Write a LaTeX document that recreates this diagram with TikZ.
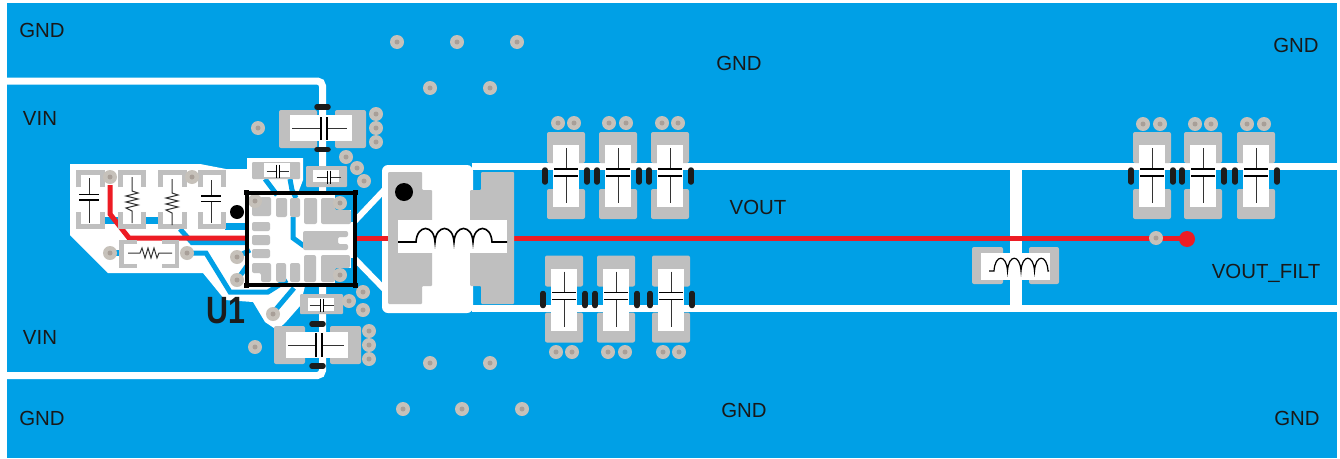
\documentclass[tikz,border=0pt]{standalone}
\usepackage{fontspec}
\usepackage{xcolor}
\setmainfont{Liberation Sans}
\definecolor{pcbblue}{HTML}{00A0E6}
\definecolor{padgray}{HTML}{BFBFBF}
\definecolor{viagray}{HTML}{C6C1BA}
\definecolor{viadark}{HTML}{A89F98}
\definecolor{netred}{HTML}{ED1C24}
\definecolor{silk}{HTML}{1C1C1C}
\tikzstyle{netlabel} = [text=black!90, font=\fontsize{20.4}{21}\selectfont, inner sep=0pt, text height=14pt, text depth=0pt]
\tikzstyle{via} = [circle, fill=viagray, minimum size=14pt, inner sep=0pt,
    path picture={\fill[viadark] (path picture bounding box.center) circle (2.5);}]
\tikzstyle{pad} = [fill=padgray, rounded corners=2pt]
\tikzstyle{body} = [fill=white]
\tikzstyle{bracket} = [draw=padgray, line width=5pt]
\tikzstyle{clearance} = [draw=white, line width=7pt, rounded corners=5pt]
\tikzstyle{trace} = [draw=pcbblue, line width=5pt]
\tikzstyle{net} = [draw=netred, line width=5pt]
\tikzstyle{plate} = [draw=black, line width=1.7pt]
\tikzstyle{lead} = [draw=black!80, line width=0.8pt]
\tikzstyle{bar} = [draw=silk, line width=5.5pt, line cap=round]
% output capacitor, pads above and below
\newcommand{\outcap}[2]{
	\fill [pad] (#1-19,#2-44) rectangle (#1+19,#2-13);
	\fill [pad] (#1-19,#2+13) rectangle (#1+19,#2+43);
	\fill [body] (#1-13,#2-31) rectangle (#1+13,#2+31);
	\path [lead] (#1,#2-28) -- (#1,#2-7);
	\path [lead] (#1,#2) -- (#1,#2+27);
	\path [plate] (#1-12,#2-7) -- (#1+12,#2-7);
	\path [plate] (#1-12,#2) -- (#1+12,#2);
	\path [bar] (#1-21,#2-6) -- (#1-21,#2+6);
	\path [bar] (#1+21,#2-6) -- (#1+21,#2+6);
}
% small capacitor lying flat: x, y, half width of leads
\newcommand{\flatcap}[3]{
	\path [lead] (#1-#3,#2) -- (#1-1.5,#2);
	\path [lead] (#1+1.5,#2) -- (#1+#3,#2);
	\path [draw=black, line width=1pt] (#1-1.5,#2-6.5) -- (#1-1.5,#2+6.5);
	\path [draw=black, line width=1pt] (#1+1.5,#2-6.5) -- (#1+1.5,#2+6.5);
}
% pair of grey brackets round an upright part
\newcommand{\partbrackets}[1]{
	\path [bracket] (#1+2.5,187) -- (#1+2.5,172.5) -- (#1+26,172.5) -- (#1+26,187);
	\path [bracket] (#1+2.5,212) -- (#1+2.5,226.5) -- (#1+26,226.5) -- (#1+26,212);
}
% upright resistor: x, top of zigzag
\newcommand{\uprightres}[2]{
	\path [lead, line width=1pt] (#1,#2-14) -- (#1,#2) -- (#1+6,#2+2) -- (#1-6,#2+5) -- (#1+6,#2+8) -- (#1-6,#2+11) -- (#1+6,#2+14) -- (#1-6,#2+17) -- (#1,#2+20) -- (#1,#2+32);
}
\begin{document}
\begin{tikzpicture}[x=1pt, y=-1pt]
			\useasboundingbox (0,0) rectangle (1340,458);
			% copper pour
			\fill [pcbblue] (7,3) rectangle (1337,458);

			% clearance lines
			\path [clearance] (7,81) -- (322.5,81) -- (322.5,375.5) -- (7,375.5);
			\path [clearance, rounded corners=0pt] (472,166.5) -- (1340,166.5);
			\path [clearance, rounded corners=0pt] (472,308.5) -- (1340,308.5);
			\fill [white] (1010,166) rectangle (1022,308);
			\fill [white, rounded corners=6pt] (382,165) rectangle (473,313);
			\path [clearance, line width=6pt, rounded corners=0pt] (353,223) -- (387,187);
			\path [clearance, line width=6pt, rounded corners=0pt] (353,257) -- (387,292);

			% white area of the input side
			\fill [white] (70,164) -- (200,164) -- (226,169) -- (247,169) -- (247,158) -- (303,158) -- (303,180) -- (298,193)
				-- (355,193) -- (355,286) -- (305,286) -- (300,306) -- (285,323) -- (277,330) -- (265,322) -- (253,302)
				-- (225,300) -- (203,273) -- (108,273) -- (70,235) -- cycle;

			% blue traces
			\fill [pcbblue] (335,193) rectangle (355,210);
			\fill [pcbblue] (351,193) rectangle (355,222);
			\fill [pcbblue] (351,258) rectangle (355,286);
			\fill [pcbblue] (335,268) rectangle (355,286);
			\path [trace, line width=7pt] (103,220.5) -- (118,220.5);
			\path [trace, line width=7pt] (145,220.5) -- (158,220.5);
			\path [trace, line width=7pt] (225,226) -- (247,226);
			\path [trace] (180,229) -- (192,242.5) -- (247,242.5);
			\path [trace] (188,253) -- (206,253) -- (230,292) -- (268,292) -- (287,280);
			\path [trace] (272,314) -- (294,288);
			\path [trace] (265,179) -- (277,195);
			\path [trace] (290,179) -- (292,190) -- (296,198);
			\path [trace] (293,217) -- (293,238) -- (304,246);
			\path [trace] (237,257) -- (250,250);
			\path [trace] (237,280) -- (247,266);
			\path [trace, line width=6pt] (110,253) -- (120,253);

			% red net
			\path [net] (110,185) -- (110,214) -- (129,238) -- (247,238);
			\path [net] (355,238) -- (388,238);
			\path [net] (514,238) -- (1187,238);

			% inductor
			\fill [pad, rounded corners=1pt] (388,172) -- (422,172) -- (422,190) -- (432,190) -- (432,286) -- (422,286) -- (422,304) -- (388,304) -- cycle;
			\fill [pad, rounded corners=1pt] (481,172) -- (514,172) -- (514,304) -- (481,304) -- (481,286) -- (470,286) -- (470,190) -- (481,190) -- cycle;
			\fill [body] (398,220) rectangle (507,253);
			\path [draw=black, line width=1.6pt] (398,242) -- (416,242)
				.. controls +(1,-18) and +(-1,-18) .. ++(19,0)
				.. controls +(1,-18) and +(-1,-18) .. ++(19,0)
				.. controls +(1,-18) and +(-1,-18) .. ++(19,0)
				.. controls +(1,-18) and +(-1,-18) .. ++(19,0) -- (507,242);
			\fill [black] (404,192) circle (9);

			% filter inductor
			\fill [pad] (972,247) rectangle (1003,284);
			\fill [pad] (1029,247) rectangle (1059,284);
			\fill [body] (981,253) rectangle (1050,280);
			\path [draw=black, line width=1.2pt] (989,271) -- (994,271)
				.. controls +(1,-17) and +(-1,-17) .. ++(13.5,0)
				.. controls +(1,-17) and +(-1,-17) .. ++(13.5,0)
				.. controls +(1,-17) and +(-1,-17) .. ++(13.5,0)
				.. controls +(1,-17) and +(-1,-17) .. ++(13.5,0) -- (1049,271);

			% output capacitors
			\outcap{566}{176}
			\outcap{618}{176}
			\outcap{670}{176}
			\outcap{564}{299.5}
			\outcap{616}{299.5}
			\outcap{671}{299.5}
			\outcap{1152}{176}
			\outcap{1203}{176}
			\outcap{1256}{176}

			% input capacitors
			\fill [pad] (279,110) rectangle (317,148);
			\fill [pad] (335,110) rectangle (366,148);
			\fill [body] (290,115) rectangle (352,141);
			\path [lead] (292,128) -- (321,128);
			\path [lead] (327,128) -- (347,128);
			\path [plate] (321,117) -- (321,140);
			\path [plate] (327,117) -- (327,140);
			\path [bar] (317,107) -- (328,107);
			\path [bar] (317,149.5) -- (328,149.5);

			\fill [pad] (274,326) rectangle (305,364);
			\fill [pad] (330,326) rectangle (361,364);
			\fill [body] (286,332) rectangle (348,358);
			\path [lead] (288,345) -- (316,345);
			\path [lead] (322,345) -- (344,345);
			\path [plate] (316,333) -- (316,357);
			\path [plate] (322,333) -- (322,357);
			\path [bar] (312,324) -- (323,324);
			\path [bar] (312,366) -- (323,366);

			% small capacitors
			\fill [pad, rounded corners=1pt] (252,162) rectangle (300,179);
			\fill [body] (264,163) rectangle (290,177);
			\flatcap{277.5}{171}{11}
			\fill [pad, rounded corners=1pt] (306,166) rectangle (347,187);
			\fill [body] (313,170) rectangle (339,182);
			\flatcap{328.5}{177}{12}
			\fill [pad, rounded corners=1pt] (300,294) rectangle (343,314);
			\fill [body] (308,298) rectangle (334,311);
			\flatcap{321.5}{305}{12}

			% input side parts
			\partbrackets{76}
			\partbrackets{117.5}
			\partbrackets{158}
			\partbrackets{197.5}
			\path [lead] (89,178) -- (89,195);
			\path [lead] (89,200) -- (89,223);
			\path [plate, line width=1.2pt] (79,194.5) -- (99,194.5);
			\path [plate, line width=1.2pt] (79,200) -- (99,200);
			\path [lead] (211,180) -- (211,196);
			\path [lead] (211,201) -- (211,223);
			\path [plate, line width=1.2pt] (201,196) -- (221,196);
			\path [plate, line width=1.2pt] (201,201.5) -- (221,201.5);
			\uprightres{132}{191}
			\uprightres{172}{193}

			% flat resistor
			\path [bracket, line width=4.5pt] (137,242) -- (121.5,242) -- (121.5,266) -- (137,266);
			\path [bracket, line width=4.5pt] (162,242) -- (177,242) -- (177,266) -- (162,266);
			\path [lead, line width=1pt] (128,253) -- (140,253) -- (142,248) -- (145,258) -- (148,248) -- (151,258) -- (154,248) -- (157,258) -- (159,253) -- (172,253);
			\fill [black] (237,212) circle (7);

			% U1 pads
			\fill [pad] (260,197) -- (271,197) -- (271,216) -- (252,216) -- (252,206) -- (260,206) -- cycle;
			\fill [pad] (276,198) rectangle (287,217);
			\fill [pad] (290,198) rectangle (300,217);
			\fill [pad] (304,198) rectangle (317,224);
			\fill [pad] (321,198) -- (335,198) -- (335,210) -- (351,210) -- (351,224) -- (321,224) -- cycle;
			\fill [pad] (252,222) rectangle (270,231);
			\fill [pad] (252,235) rectangle (270,245);
			\fill [pad] (252,249) rectangle (270,258);
			\fill [pad] (303,231) -- (348,231) -- (348,237) -- (338,237) -- (338,244) -- (348,244) -- (348,250) -- (303,250) -- cycle;
			\fill [pad] (252,263) -- (271,263) -- (271,282) -- (261,282) -- (261,273) -- (252,273) -- cycle;
			\fill [pad] (276,263) rectangle (286,282);
			\fill [pad] (290,263) rectangle (300,282);
			\fill [pad] (304,255) rectangle (316,282);
			\fill [pad] (321,255) -- (350,255) -- (350,268) -- (335,268) -- (335,282) -- (321,282) -- cycle;

			% vias
			\node [via] (via1) at (397,42) {};
			\node [via] (via2) at (457,42) {};
			\node [via] (via3) at (517,42) {};
			\node [via] (via4) at (430,88) {};
			\node [via] (via5) at (490,88) {};
			\node [via] (via6) at (430,363) {};
			\node [via] (via7) at (490,363) {};
			\node [via] (via8) at (403,409) {};
			\node [via] (via9) at (462,409) {};
			\node [via] (via10) at (522,409) {};
			\node [via] (via11) at (258,128) {};
			\node [via] (via12) at (376,114) {};
			\node [via] (via13) at (376,128) {};
			\node [via] (via14) at (376,142) {};
			\node [via] (via15) at (346,157) {};
			\node [via] (via16) at (357,168) {};
			\node [via] (via17) at (364,181) {};
			\node [via] (via18) at (255,347) {};
			\node [via] (via19) at (363,292) {};
			\node [via] (via20) at (363,310) {};
			\node [via] (via21) at (349,301) {};
			\node [via] (via22) at (369,331) {};
			\node [via] (via23) at (369,345) {};
			\node [via] (via24) at (369,359) {};
			\node [via] (via25) at (273,314) {};
			\node [via] (via26) at (237,257) {};
			\node [via] (via27) at (237,280) {};
			\node [via] (via28) at (255,201) {};
			\node [via] (via29) at (340,203) {};
			\node [via] (via30) at (340,275) {};
			\node [via] (via31) at (110,177) {};
			\node [via] (via32) at (192,177) {};
			\node [via] (via33) at (110,253) {};
			\node [via] (via34) at (187,253) {};
			\node [via] (via35) at (558,123) {};
			\node [via] (via36) at (574,123) {};
			\node [via] (via37) at (609,123) {};
			\node [via] (via38) at (626,123) {};
			\node [via] (via39) at (662,123) {};
			\node [via] (via40) at (678,123) {};
			\node [via] (via41) at (556,352) {};
			\node [via] (via42) at (572,352) {};
			\node [via] (via43) at (608,352) {};
			\node [via] (via44) at (625,352) {};
			\node [via] (via45) at (663,352) {};
			\node [via] (via46) at (679,352) {};
			\node [via] (via47) at (1143,124) {};
			\node [via] (via48) at (1160,124) {};
			\node [via] (via49) at (1195,124) {};
			\node [via] (via50) at (1211,124) {};
			\node [via] (via51) at (1247,124) {};
			\node [via] (via52) at (1264,124) {};
			\node [via] (via53) at (1156,238) {};
			\fill [netred] (1187,239) circle (8);

			% U1 outline and name
			\draw [black, line width=3.5pt] (247,193) rectangle (355,285);
			\fill [black] (244,190) rectangle (249,195);
			\fill [black] (353,190) rectangle (358,195);
			\fill [black] (244,283) rectangle (249,288);
			\fill [black] (353,283) rectangle (358,288);
			\node [text=silk, font=\fontsize{38}{38}\selectfont\bfseries, inner sep=0pt, xscale=0.8, transform shape] (u1name) at (226,311) {U1};

			% net names
			\node [netlabel] (gnd1) at (42,30) {GND};
			\node [netlabel] (vin1) at (40,118) {VIN};
			\node [netlabel] (vin2) at (40,337) {VIN};
			\node [netlabel] (gnd2) at (42,418) {GND};
			\node [netlabel] (gnd3) at (739,63) {GND};
			\node [netlabel] (gnd4) at (1296,45) {GND};
			\node [netlabel] (gnd5) at (744,410) {GND};
			\node [netlabel] (gnd6) at (1297,418) {GND};
			\node [netlabel] (vout) at (758,207) {VOUT};
			\node [netlabel] (voutfilt) at (1266,271) {VOUT\_FILT};
\end{tikzpicture}
\end{document}
